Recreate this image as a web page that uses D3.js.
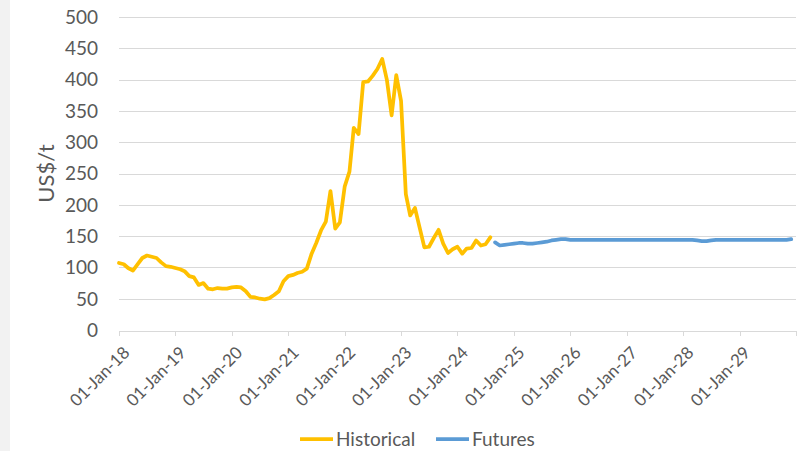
<!DOCTYPE html>
<head>
    <meta charset="utf-8">
</head>
<style>

    body {
      margin: 0;
      background: #fff;
      font-family: Lato, "Open Sans", sans-serif;
    }

    .tick text {
      fill: #595959;
    }

    .grid line {
      stroke: #d9d9d9;
      stroke-width: 1;
      shape-rendering: crispEdges;
    }

    .x.axis path,
    .x.axis line {
      stroke: #d9d9d9;
      shape-rendering: crispEdges;
    }

    .line {
      fill: none;
      stroke-width: 3.75;
      stroke-linejoin: round;
      stroke-linecap: round;
    }

</style>
<body>
<script src="https://d3js.org/d3.v7.min.js"></script>
<script>

    // monthly prices, Jan-18 .. Aug-24
    var historical = [
      107, 105, 99, 95, 105, 115, 119, 117, 115, 108, 102, 101,
      99, 97, 94, 86, 84, 72, 75, 66, 65, 67, 66, 66,
      68, 69, 68, 62, 53, 52, 50, 49, 51, 56, 62, 78,
      86, 88, 91, 93, 98, 122, 139, 159, 173, 222, 162, 172,
      229, 253, 323, 313, 396, 397, 406, 417, 433, 400, 343, 407,
      366, 217, 183, 195, 164, 132, 133, 147, 160, 138, 123, 129,
      133, 122, 130, 131, 143, 135, 137, 148
    ]

    // futures curve, Sep-24 .. Dec-29
    var futures = [
      140, 135, 136, 137,
      138, 139, 139, 138, 138, 139, 140, 141, 143, 144, 145, 145,
      144, 144, 144, 144, 144, 144, 144, 144, 144, 144, 144, 144,
      144, 144, 144, 144, 144, 144, 144, 144, 144, 144, 144, 144,
      144, 144, 144, 143, 142, 142, 143, 144, 144, 144, 144, 144,
      144, 144, 144, 144, 144, 144, 144, 144, 144, 144, 144, 145
    ]

    var historicalStart = new Date(2018, 0, 1)
    var futuresStart = new Date(2024, 8, 1)

    var tickLabels = ["01-Jan-18", "01-Jan-19", "01-Jan-20", "01-Jan-21", "01-Jan-22", "01-Jan-23",
                      "01-Jan-24", "01-Jan-25", "01-Jan-26", "01-Jan-27", "01-Jan-28", "01-Jan-29", ""]
    var tickYears = [2018, 2019, 2020, 2021, 2022, 2023, 2024, 2025, 2026, 2027, 2028, 2029, 2030]
    var yTicks = [0, 50, 100, 150, 200, 250, 300, 350, 400, 450, 500]

    var seriesNames = ["Historical", "Futures"]
    var color = d3.scaleOrdinal()
        .domain(seriesNames)
        .range(["#ffc000", "#5b9bd5"])

    var width = 806,
        height = 451

    var x = d3.scaleTime()
        .domain([new Date(2018, 0, 1), new Date(2030, 0, 1)])
        .range([119, 796])

    var y = d3.scaleLinear()
        .domain([0, 500])
        .range([330, 17])

    var svg = d3.select("body").append("svg")
        .attr("width", width)
        .attr("height", height)

    svg.append("rect")
        .attr("width", width)
        .attr("height", height)
        .attr("fill", "#fff")

    svg.append("rect")
        .attr("width", 10)
        .attr("height", height)
        .attr("fill", "#f2f2f2")

    // gridlines
    svg.append("g")
        .attr("class", "grid")
        .selectAll("line")
        .data(yTicks.slice(1))
      .enter().append("line")
        .attr("x1", x.range()[0])
        .attr("x2", x.range()[1])
        .attr("y1", function(d) { return Math.round(y(d)) + 0.5 })
        .attr("y2", function(d) { return Math.round(y(d)) + 0.5 })

    // y labels
    svg.append("g")
        .selectAll("text")
        .data(yTicks)
      .enter().append("text")
        .attr("x", 98)
        .attr("y", function(d) { return y(d) })
        .attr("dy", "0.36em")
        .style("text-anchor", "end")
        .style("font-size", "19px")
        .style("fill", "#595959")
        .text(function(d) { return d })

    svg.append("text")
        .attr("transform", "translate(54," + (y(250)) + ") rotate(-90)")
        .style("text-anchor", "middle")
        .style("font-size", "22px")
        .style("fill", "#595959")
        .text("US$/t")

    // x axis
    var tickDates = tickYears.map(function(yr) { return new Date(yr, 0, 1) })

    var xAxis = d3.axisBottom(x)
        .tickValues(tickDates)
        .tickSize(5)
        .tickSizeOuter(0)
        .tickFormat(function(d, i) { return tickLabels[i] })

    var gx = svg.append("g")
        .attr("class", "x axis")
        .attr("transform", "translate(0," + (Math.round(y(0)) + 0.5) + ")")
        .call(xAxis)

    gx.selectAll(".tick text")
        .attr("y", 0)
        .attr("dy", "0.35em")
        .attr("transform", "translate(7,19) rotate(-45)")
        .style("text-anchor", "end")
        .style("font-size", "17px")
        .style("font-family", "Lato, sans-serif")

    // lines
    var line = d3.line()
        .x(function(d) { return x(d.date) })
        .y(function(d) { return y(d.value) })

    var histData = historical.map(function(v, i) {
      return { date: d3.timeMonth.offset(historicalStart, i), value: v }
    })
    var futData = futures.map(function(v, i) {
      return { date: d3.timeMonth.offset(futuresStart, i), value: v }
    })

    svg.append("path")
        .datum(histData)
        .attr("class", "line")
        .attr("stroke", color("Historical"))
        .attr("d", line)

    svg.append("path")
        .datum(futData)
        .attr("class", "line")
        .attr("stroke", color("Futures"))
        .attr("d", line)

    // legend
    var legendX = [300, 436]
    var legend = svg.selectAll(".legend")
        .data(seriesNames)
      .enter().append("g")
        .attr("class", "legend")
        .attr("transform", function(d, i) { return "translate(" + legendX[i] + ",439)" })

    legend.append("line")
        .attr("x1", 0)
        .attr("x2", 33)
        .attr("stroke", function(d) { return color(d) })
        .attr("stroke-width", 3.75)

    legend.append("text")
        .attr("x", 36)
        .attr("y", 7)
        .style("font-size", "19px")
        .style("fill", "#595959")
        .text(function(d) { return d })

</script>
</body>
